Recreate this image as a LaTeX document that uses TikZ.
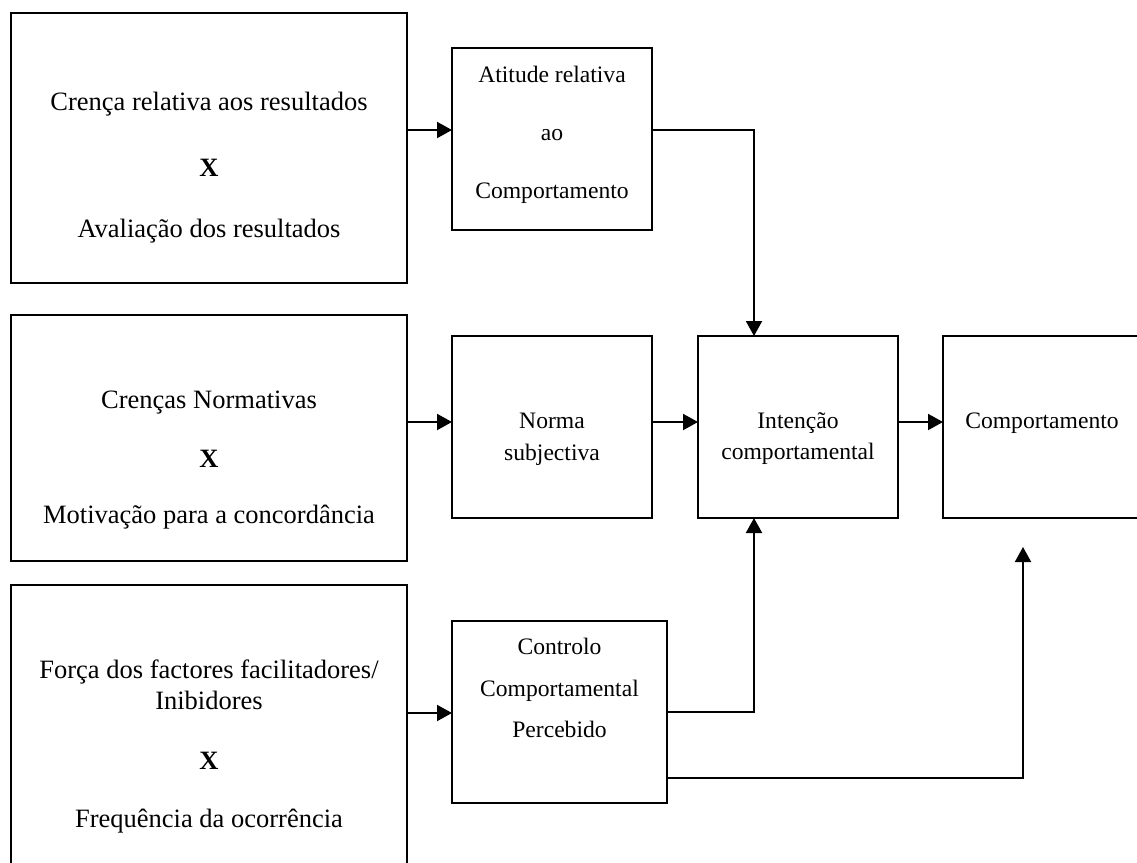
\documentclass[tikz,border=0pt]{standalone}
\usepackage{fontspec}
\setmainfont{Liberation Serif}
\usetikzlibrary{arrows.meta}
\begin{document}
\begin{tikzpicture}[x=1pt,y=-1pt,
  box/.style={draw, line width=1.8pt, inner sep=0pt, outer sep=0pt},
  big/.style={anchor=base, inner sep=0pt, font=\fontsize{26.5}{30}\selectfont},
  small/.style={anchor=base, inner sep=0pt, font=\fontsize{23.6}{28}\selectfont},
  conn/.style={line width=2pt, -{Triangle[length=15pt,width=16pt]}},
  plain/.style={line width=2pt}]
\useasboundingbox (0,0) rectangle (1137,862);
\clip (0,0) rectangle (1137,862);
\fill[white] (0,0) rectangle (1137,862);
% boxes
\node[box, minimum width=396pt, minimum height=270pt] (b1) at (209,148) {};
\node[box, minimum width=396pt, minimum height=246pt] (b2) at (209,438) {};
\node[box, minimum width=396pt, minimum height=300pt] (b3) at (209,735) {};
\node[box, minimum width=200pt, minimum height=182pt] (att) at (552,139) {};
\node[box, minimum width=200pt, minimum height=182pt] (nor) at (552,427) {};
\node[box, minimum width=215pt, minimum height=182pt] (ctl) at (559.5,712) {};
\node[box, minimum width=200pt, minimum height=182pt] (int) at (798,427) {};
\node[box, minimum width=200pt, minimum height=182pt] (beh) at (1043,427) {};
% texts
\node[big] (t1a) at (209,110) {Crença relativa aos resultados};
\node[big] (t1b) at (209,176) {\bfseries X};
\node[big] (t1c) at (209,237) {Avaliação dos resultados};
\node[big] (t2a) at (209,408) {Crenças Normativas};
\node[big] (t2b) at (209,467) {\bfseries X};
\node[big] (t2c) at (209,523) {Motivação para a concordância};
\node[big] (t3a) at (209,678) {Força dos factores facilitadores/};
\node[big] (t3b) at (209,709) {Inibidores};
\node[big] (t3c) at (209,769) {\bfseries X};
\node[big] (t3d) at (209,827) {Frequência da ocorrência};
\node[small] (tAa) at (552,82) {Atitude relativa};
\node[small] (tAb) at (552,140) {ao};
\node[small] (tAc) at (552,198) {Comportamento};
\node[small] (tNa) at (552,428) {Norma};
\node[small] (tNb) at (552,460) {subjectiva};
\node[small] (tIa) at (798,428) {Intenção};
\node[small] (tIb) at (798,459) {comportamental};
\node[small] (tBa) at (1042,428) {Comportamento};
\node[small] (tCa) at (559.5,654) {Controlo};
\node[small] (tCb) at (559.5,696) {Comportamental};
\node[small] (tCc) at (559.5,737) {Percebido};
% helper coordinates
\coordinate (jx) at (754,0);
\coordinate (tip) at (1023,547);
% connectors
\draw[conn] (b1.east |- 0,130) -- (att.west |- 0,130);
\draw[conn] (b2.east |- 0,422) -- (nor.west |- 0,422);
\draw[conn] (nor.east |- 0,422) -- (int.west |- 0,422);
\draw[conn] (int.east |- 0,422) -- (beh.west |- 0,422);
\draw[conn] (b3.east |- 0,713) -- (ctl.west |- 0,713);
\draw[conn] (att.east |- 0,130) -| (int.north -| jx);
\draw[conn] (ctl.east |- 0,712) -| (int.south -| jx);
\draw[conn] (ctl.east |- 0,778) -| (tip);
\end{tikzpicture}
\end{document}
